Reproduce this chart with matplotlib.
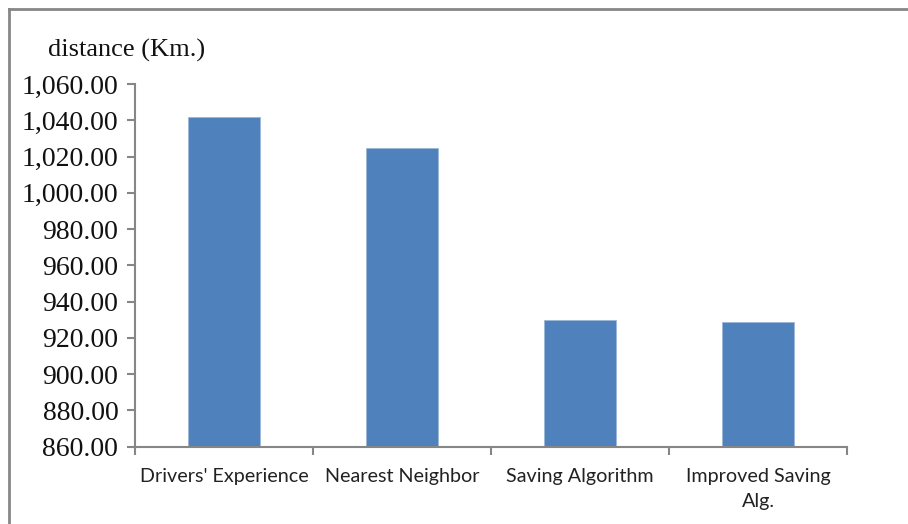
import numpy as np
import matplotlib.pyplot as plt
from matplotlib.lines import Line2D
from matplotlib.ticker import FuncFormatter, MultipleLocator

# data
methods = ["Drivers' Experience", "Nearest Neighbor", "Saving Algorithm", "Improved Saving\nAlg."]
distance = [1041.8, 1024.8, 930.1, 928.6]

W, H = 908, 524
fig = plt.figure(figsize=(W / 100, H / 100), dpi=100)
ax = fig.add_axes([135 / W, 1 - 446.7 / H, (847 - 135) / W, (446.7 - 84) / H])

x = np.arange(len(methods))
ax.bar(x, distance, width=0.4, bottom=0, color="#4F81BD", edgecolor="#9DB7D8", linewidth=0.6)

ax.set_xlim(-0.5, len(methods) - 0.5)
ax.set_ylim(860, 1060)
ax.yaxis.set_major_locator(MultipleLocator(20))
ax.yaxis.set_major_formatter(FuncFormatter(lambda v, p: f"{v:,.2f}"))

gray = "#868686"
for s in ["top", "right"]:
    ax.spines[s].set_visible(False)
for s in ["left", "bottom"]:
    ax.spines[s].set_color(gray)
    ax.spines[s].set_linewidth(1.5)

ax.set_xticks(x)
ax.set_xticklabels(methods, family="Lato", fontsize=14.2, color="#222222", linespacing=1.6)
ax.tick_params(axis="x", length=0, pad=15)
# category boundary ticks
ax.set_xticks(np.arange(len(methods) + 1) - 0.5, minor=True)
ax.tick_params(axis="x", which="minor", length=6, width=1.5, color=gray, direction="out")

for lab in ax.get_yticklabels():
    lab.set_family("Liberation Serif")
    lab.set_fontsize(20)
    lab.set_color("#111111")
ax.tick_params(axis="y", length=6, width=1.5, color=gray, pad=6)

fig.text(48 / W, 1 - 50 / H, "distance (Km.)", family="Liberation Serif", fontsize=19,
         ha="left", va="center", color="#111111")

# outer frame (top and left edges visible)
fig.add_artist(Line2D([8.5 / W, 8.5 / W], [0, 1 - 8.5 / H], transform=fig.transFigure, color=gray, lw=2))
fig.add_artist(Line2D([8.5 / W, 1], [1 - 8.5 / H, 1 - 8.5 / H], transform=fig.transFigure, color=gray, lw=2))

fig.savefig("out.png", dpi=100)
